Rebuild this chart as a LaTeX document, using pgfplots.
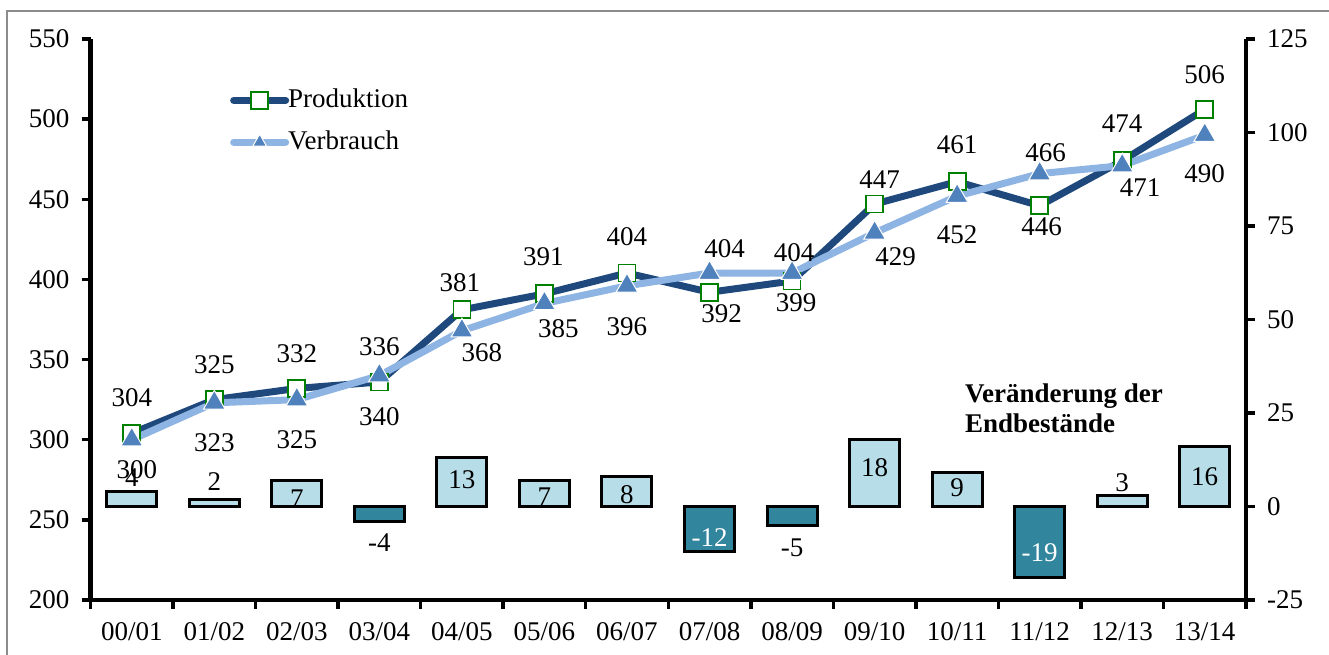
\documentclass[border=0pt]{standalone}
\usepackage{pgfplots}
\usepackage{pgfplotstable}
\pgfplotsset{compat=1.18}
\usepackage{fontspec}
\setmainfont{Liberation Serif}
\definecolor{prodc}{HTML}{1F497D}
\definecolor{consl}{HTML}{8DB4E2}
\definecolor{consm}{HTML}{4F81BD}
\definecolor{barpos}{HTML}{B7DEE8}
\definecolor{barneg}{HTML}{31859C}
\definecolor{mkgreen}{HTML}{008000}
\definecolor{framec}{HTML}{8C8C8C}

\pgfplotstableread{
x v dx dy
0 304 0 36
1 325 0 35
2 332 0 35
3 336 0 35
4 381 -2 27
5 391 -1 37
6 404 0 36
7 392 12 -21
8 399 4 -22
9 447 5 24
10 461 0 37
11 446 2 -21
12 474 0 37
13 506 0 35
}\prodt

\pgfplotstableread{
x v dx dy
0 300 5 -30
1 323 0 -40
2 325 0 -40
3 340 0 -41
4 368 20 -22
5 385 14 -25
6 396 0 -41
7 404 15 24
8 404 2 20
9 429 21 -24
10 452 0 -39
11 466 6 21
12 471 18 -22
13 490 0 -38
}\const

\pgfplotstableread{
x v dy
0 4 14
1 2 17
2 7 -18
4 13 -22
5 7 -16
6 8 -18
9 18 -28
10 9 -15
12 3 13
13 16 -30
}\barpost

\pgfplotstableread{
x v dy
3 -4 -21.5
8 -5 -23
}\barnegblack

\pgfplotstableread{
x v dy
7 -12 14
11 -19 25
}\barnegwhite

\pgfplotsset{
  base/.style={
    scale only axis, width=1155.5pt, height=561pt,
    at={(90.5pt,55pt)}, anchor=south west,
    xmin=-0.5, xmax=13.5, clip=false,
    tick align=outside, major tick length=9pt, minor tick length=9pt,
    axis line style={line width=4.5pt, black},
    tick style={black, line width=3.5pt},
  },
  barlbl/.style={
    nodes near coords, point meta=explicit symbolic,
    visualization depends on={\thisrow{dy} \as \dy},
    nodes near coords style={anchor=center, inner sep=0pt, yshift=\dy pt, text=#1},
  },
}

\begin{document}
\fontsize{27}{30}\selectfont%
\begin{tikzpicture}
\useasboundingbox (0,0) rectangle (1329pt,655pt);
\draw[framec, line width=2.5pt] (7pt,0pt) -- (7pt,644pt) -- (1329pt,644pt);

\begin{axis}[base,
  axis x line=none, axis y line*=right,
  ymin=-25, ymax=125,
  ytick={-25,0,25,50,75,100,125},
  yticklabels={-25,0,25,50,75,100,125},
  yticklabel style={inner sep=0pt, anchor=west, xshift=12pt},
]
\addplot[ybar, bar shift=0pt, bar width=50pt, fill=barpos, draw=black, line width=3pt, barlbl=black]
  table[x=x, y=v, meta=v] {\barpost};
\addplot[ybar, bar shift=0pt, bar width=50pt, fill=barneg, draw=black, line width=3pt, barlbl=black]
  table[x=x, y=v, meta=v] {\barnegblack};
\addplot[ybar, bar shift=0pt, bar width=50pt, fill=barneg, draw=black, line width=3pt, barlbl=white]
  table[x=x, y=v, meta=v] {\barnegwhite};
\node[anchor=west, align=left, font=\bfseries, inner sep=0pt] at (rel axis cs:0.7568,0.342) {Veränderung der\\Endbestände};
\end{axis}

\begin{axis}[base,
  axis x line*=bottom, axis y line*=left,
  ymin=200, ymax=550,
  ytick={200,250,300,350,400,450,500,550},
  yticklabels={200,250,300,350,400,450,500,550},
  yticklabel style={inner sep=0pt, anchor=east, xshift=-12pt},
  xtick={0,1,...,13},
  xticklabels={00/01,01/02,02/03,03/04,04/05,05/06,06/07,07/08,08/09,09/10,10/11,11/12,12/13,13/14},
  xticklabel style={inner sep=0pt, anchor=north, yshift=-13pt},
  minor xtick={-0.5,0.5,...,13.5},
  major x tick style={draw=none},
  legend style={at={(0.1207,0.913)}, anchor=north west, draw=none, fill=none,
    inner sep=0pt, row sep=17pt, nodes={inner sep=1pt, anchor=west},
    /tikz/every odd column/.append style={column sep=-2pt}},
  legend cell align=left,
  legend image code/.code={\draw[mark repeat=2, mark phase=2] plot coordinates {(0pt,0pt) (26pt,0pt) (52pt,0pt)};},
]
\addplot[prodc, line width=7pt, line cap=round, line join=round,
  mark=square*, mark size=8.5pt, mark options={fill=white, draw=mkgreen, line width=1.8pt, line join=miter},
  nodes near coords, point meta=explicit symbolic,
  visualization depends on={\thisrow{dy} \as \dy},
  visualization depends on={\thisrow{dx} \as \dx},
  nodes near coords style={anchor=center, inner sep=0pt, yshift=\dy pt, xshift=\dx pt, text=black}]
  table[x=x, y=v, meta=v] {\prodt};
\addlegendentry{Produktion}
\addplot[consl, line width=7pt, line cap=round, line join=round,
  mark=triangle*, mark size=12.5pt, mark options={fill=consm, draw=white, line width=1pt, line join=miter},
  legend image code/.code={\draw[mark repeat=2, mark phase=2, mark size=8pt] plot coordinates {(0pt,0pt) (26pt,0pt) (52pt,0pt)};},
  nodes near coords, point meta=explicit symbolic,
  visualization depends on={\thisrow{dy} \as \dy},
  visualization depends on={\thisrow{dx} \as \dx},
  nodes near coords style={anchor=center, inner sep=0pt, yshift=\dy pt, xshift=\dx pt, text=black}]
  table[x=x, y=v, meta=v] {\const};
\addlegendentry{Verbrauch}
\end{axis}
\end{tikzpicture}
\end{document}
